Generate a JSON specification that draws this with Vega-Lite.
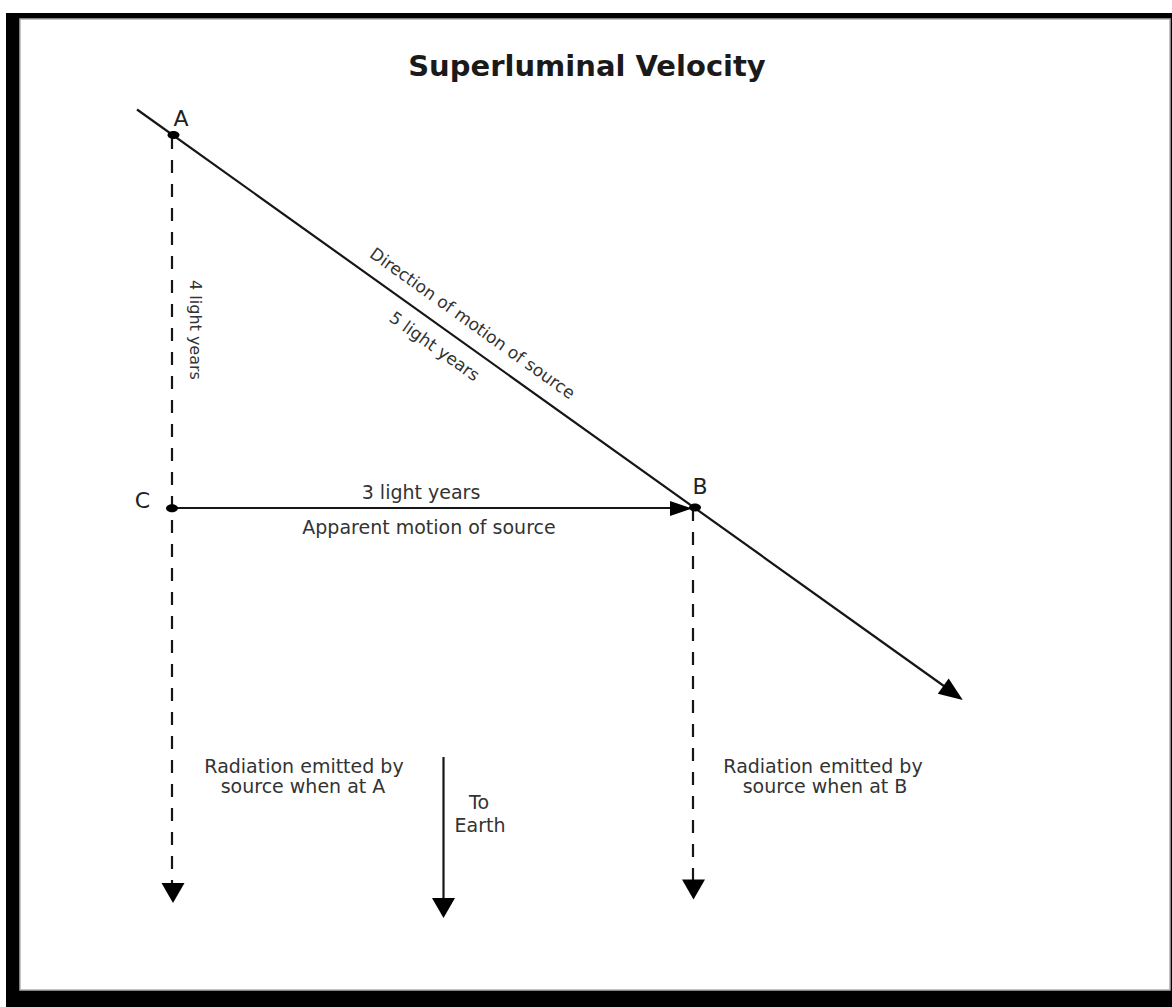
{
  "$schema": "https://vega.github.io/schema/vega-lite/v6.json",
  "width": 1172,
  "height": 1007,
  "autosize": "none",
  "padding": 0,
  "background": "white",
  "config": {"view": {"stroke": null}},
  "datasets": {
    "frame": [
      {"part": "outer", "x": 6, "x2": 1172, "y": 13, "y2": 1007},
      {"part": "inner", "x": 20, "x2": 1170, "y": 19, "y2": 990}
    ],
    "segments": [
      {"seg": "path of source", "line": "solid", "x": 137, "y": 109.5, "x2": 953, "y2": 692.5},
      {"seg": "apparent motion", "line": "solid", "x": 172, "y": 508, "x2": 672, "y2": 508},
      {"seg": "radiation at A", "line": "dashed", "x": 172, "y": 136, "x2": 172, "y2": 884},
      {"seg": "radiation at B", "line": "dashed", "x": 693, "y": 508, "x2": 693, "y2": 880},
      {"seg": "to Earth", "line": "solid", "x": 443.5, "y": 757, "x2": 443.5, "y2": 899}
    ],
    "points": [
      {"name": "A", "x": 173.5, "y": 135},
      {"name": "B", "x": 695, "y": 507.5},
      {"name": "C", "x": 172, "y": 508.3}
    ],
    "heads": [
      {"dir": "down", "x": 173, "y": 893},
      {"dir": "down", "x": 443.5, "y": 908},
      {"dir": "down", "x": 693.5, "y": 889.5},
      {"dir": "right", "x": 681, "y": 508.5},
      {"dir": "diag", "x": 953, "y": 693}
    ],
    "body": [
      {"label": "3 light years", "x": 421, "y": 499},
      {"label": "Apparent motion of source", "x": 429, "y": 534},
      {"label": "Radiation emitted  by", "x": 304, "y": 773},
      {"label": "source when at A", "x": 303, "y": 793},
      {"label": "To", "x": 479, "y": 809},
      {"label": "Earth", "x": 480, "y": 832},
      {"label": "Radiation emitted by", "x": 823, "y": 773},
      {"label": "source when at B", "x": 825, "y": 793}
    ],
    "letters": [
      {"label": "A", "x": 181, "y": 126},
      {"label": "B", "x": 700, "y": 494},
      {"label": "C", "x": 142.5, "y": 507.5}
    ],
    "diag": [
      {"label": "Direction of motion of source", "x": 472, "y": 324},
      {"label": "5 light years", "x": 434, "y": 347}
    ],
    "vert": [
      {"label": "4 light years", "x": 195, "y": 330}
    ],
    "title": [
      {"label": "Superluminal Velocity", "x": 587, "y": 76}
    ]
  },
  "encoding": {
    "x": {"field": "x", "type": "quantitative", "scale": {"domain": [0, 1172], "nice": false, "zero": false}, "axis": null},
    "y": {"field": "y", "type": "quantitative", "scale": {"domain": [0, 1007], "reverse": true, "nice": false, "zero": false}, "axis": null}
  },
  "layer": [
    {
      "data": {"name": "frame"},
      "transform": [{"filter": "datum.part === 'outer'"}],
      "mark": {"type": "rect", "color": "#000000"},
      "encoding": {"x2": {"field": "x2"}, "y2": {"field": "y2"}}
    },
    {
      "data": {"name": "frame"},
      "transform": [{"filter": "datum.part === 'inner'"}],
      "mark": {"type": "rect", "fill": "#ffffff", "stroke": "#b0b0b0", "strokeWidth": 1.5},
      "encoding": {"x2": {"field": "x2"}, "y2": {"field": "y2"}}
    },
    {
      "data": {"name": "segments"},
      "transform": [{"filter": "datum.line === 'solid'"}],
      "mark": {"type": "rule", "color": "#161616", "strokeWidth": 2.2},
      "encoding": {"x2": {"field": "x2"}, "y2": {"field": "y2"}}
    },
    {
      "data": {"name": "segments"},
      "transform": [{"filter": "datum.line === 'dashed'"}],
      "mark": {"type": "rule", "color": "#161616", "strokeWidth": 2.2, "strokeDash": [13, 11], "strokeCap": "butt"},
      "encoding": {"x2": {"field": "x2"}, "y2": {"field": "y2"}}
    },
    {
      "data": {"name": "heads"},
      "transform": [{"filter": "datum.dir === 'down'"}],
      "mark": {"type": "point", "shape": "M-1,-0.87L1,-0.87L0,0.87Z", "size": 529, "filled": true, "color": "#000000", "opacity": 1}
    },
    {
      "data": {"name": "heads"},
      "transform": [{"filter": "datum.dir === 'right'"}],
      "mark": {"type": "point", "shape": "M-1,-0.68L1,0L-1,0.68Z", "size": 484, "filled": true, "color": "#000000", "opacity": 1}
    },
    {
      "data": {"name": "heads"},
      "transform": [{"filter": "datum.dir === 'diag'"}],
      "mark": {"type": "point", "shape": "M-1,-0.78L1,0L-1,0.78Z", "size": 576, "angle": 35.5, "filled": true, "color": "#000000", "opacity": 1}
    },
    {
      "data": {"name": "points"},
      "mark": {"type": "point", "shape": "M-1,0A1,0.66 0 1,0 1,0A1,0.66 0 1,0 -1,0Z", "size": 144, "filled": true, "color": "#000000", "opacity": 1}
    },
    {
      "data": {"name": "body"},
      "mark": {"type": "text", "font": "DejaVu Sans", "fontSize": 19, "color": "#333333", "align": "center", "baseline": "alphabetic"},
      "encoding": {"text": {"field": "label"}}
    },
    {
      "data": {"name": "letters"},
      "mark": {"type": "text", "font": "DejaVu Sans", "fontSize": 22, "color": "#222222", "align": "center", "baseline": "alphabetic"},
      "encoding": {"text": {"field": "label"}}
    },
    {
      "data": {"name": "diag"},
      "mark": {"type": "text", "font": "DejaVu Sans", "fontSize": 17, "color": "#333333", "align": "center", "baseline": "middle", "angle": 35.5},
      "encoding": {"text": {"field": "label"}}
    },
    {
      "data": {"name": "vert"},
      "mark": {"type": "text", "font": "DejaVu Sans", "fontSize": 16, "color": "#333333", "align": "center", "baseline": "middle", "angle": 90},
      "encoding": {"text": {"field": "label"}}
    },
    {
      "data": {"name": "title"},
      "mark": {"type": "text", "font": "DejaVu Sans", "fontSize": 29, "fontWeight": "bold", "color": "#1a1a1a", "align": "center", "baseline": "alphabetic"},
      "encoding": {"text": {"field": "label"}}
    }
  ]
}
